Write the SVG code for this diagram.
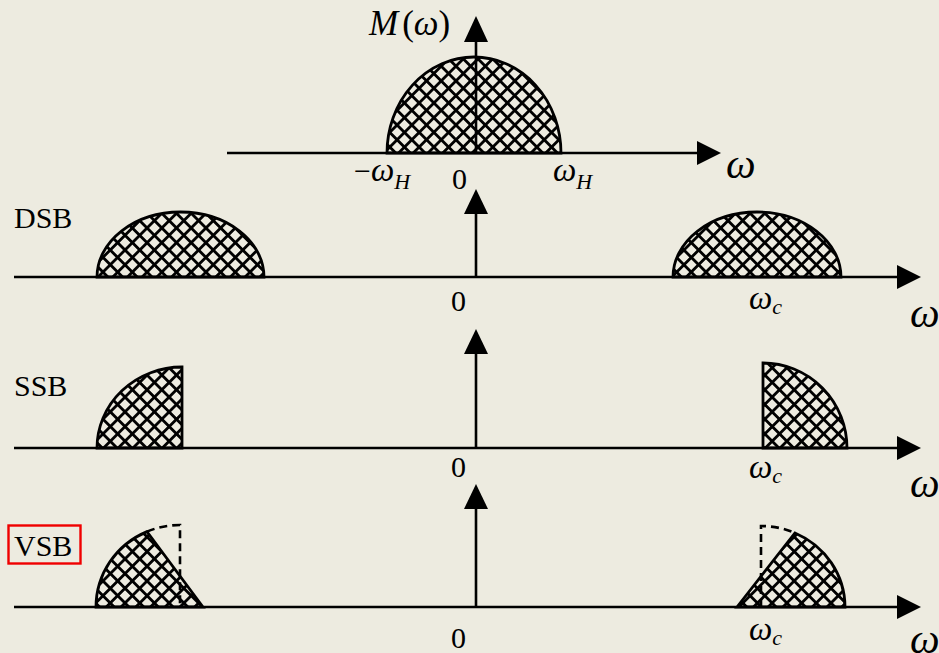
<svg xmlns="http://www.w3.org/2000/svg" width="939" height="653" viewBox="0 0 939 653">
<defs>
<pattern id="hatch" patternUnits="userSpaceOnUse" width="10.4" height="10.4" patternTransform="rotate(45)">
<path d="M0,5.2 H10.4 M5.2,0 V10.4" stroke="#000" stroke-width="2.8" fill="none"/>
</pattern>
<style>
.ax{stroke:#000;stroke-width:2.6;fill:none}
.ah{fill:#000}
.sp{fill:url(#hatch);stroke:#000;stroke-width:2.8}
.dash{fill:none;stroke:#000;stroke-width:2.6;stroke-dasharray:8,5}
text{font-family:"Liberation Serif","Times New Roman",serif;fill:#000}
.it{font-style:italic}
.lbl{font-size:30px}
.w{font-size:33px;font-style:italic}
.sub{font-size:22px;font-style:italic}
.bigw{font-size:42px;font-style:italic}
</style>
</defs>
<rect width="939" height="653" fill="#EDEBE0"/>

<g id="panel-m">
<path class="sp" d="M387,153 A87,96 0 0 1 561,153 Z"/>
<text x="369" y="35" font-size="35"><tspan class="it">M</tspan><tspan dx="4">(</tspan><tspan class="it">ω</tspan><tspan>)</tspan></text>
<text x="354" y="181"><tspan class="lbl">−</tspan><tspan class="w">ω</tspan><tspan class="sub" dy="8">H</tspan></text>
<text x="452" y="189" class="lbl">0</text>
<text x="553" y="181"><tspan class="w">ω</tspan><tspan class="sub" dy="8">H</tspan></text>
<text x="726" y="178" class="bigw" font-size="48">ω</text>
</g>

<g id="panel-dsb">
<path class="sp" d="M97,277 A83.5,65 0 0 1 264,277 Z"/>
<path class="sp" d="M673,277 A84,65 0 0 1 841,277 Z"/>
<text x="14" y="228" class="lbl">DSB</text>
<text x="451" y="311" class="lbl">0</text>
<text x="749" y="309"><tspan class="w">ω</tspan><tspan class="sub" dy="5">c</tspan></text>
<text x="910" y="327" class="bigw">ω</text>
</g>

<g id="panel-ssb">
<path class="sp" d="M97,448 A85,81 0 0 1 182,367 L182,448 Z"/>
<path class="sp" d="M763,448 L763,363 A84,85 0 0 1 847,448 Z"/>
<text x="14" y="396" class="lbl">SSB</text>
<text x="451" y="477" class="lbl">0</text>
<text x="749" y="478"><tspan class="w">ω</tspan><tspan class="sub" dy="5">c</tspan></text>
<text x="910" y="497" class="bigw">ω</text>
</g>

<g id="panel-vsb">
<path class="sp" d="M96,607 A84,82 0 0 1 147,531.6 L203,607 Z"/>
<path class="dash" d="M147,531.6 A84,82 0 0 1 180,525 L180,607"/>
<path class="sp" d="M737,607 L795,533 A84,81 0 0 1 845,607 Z"/>
<path class="dash" d="M761,607 L761,526 A84,81 0 0 1 795,533"/>
<rect x="8.5" y="525.5" width="72" height="38" fill="none" stroke="#F00000" stroke-width="2.4"/>
<text x="14" y="556" class="lbl">VSB</text>
<text x="451" y="648" class="lbl">0</text>
<text x="749" y="640"><tspan class="w">ω</tspan><tspan class="sub" dy="5">c</tspan></text>
<text x="910" y="653" class="bigw">ω</text>
</g>

<g id="axes">
<line class="ax" x1="227" y1="153" x2="700" y2="153"/>
<polygon class="ah" points="697,141 721,153 697,165"/>
<line class="ax" x1="476" y1="153" x2="476" y2="38"/>
<polygon class="ah" points="464,42 476,16 488,42"/>

<line class="ax" x1="14" y1="277" x2="900" y2="277"/>
<polygon class="ah" points="897,265 921,277 897,289"/>
<line class="ax" x1="476" y1="277" x2="476" y2="210"/>
<polygon class="ah" points="464,214 476,189 488,214"/>

<line class="ax" x1="14" y1="448" x2="900" y2="448"/>
<polygon class="ah" points="897,436 921,448 897,460"/>
<line class="ax" x1="476" y1="448" x2="476" y2="350"/>
<polygon class="ah" points="464,354 476,329 488,354"/>

<line class="ax" x1="14" y1="607" x2="900" y2="607"/>
<polygon class="ah" points="897,595 921,607 897,619"/>
<line class="ax" x1="476" y1="607" x2="476" y2="505"/>
<polygon class="ah" points="464,509 476,484 488,509"/>
</g>
</svg>
